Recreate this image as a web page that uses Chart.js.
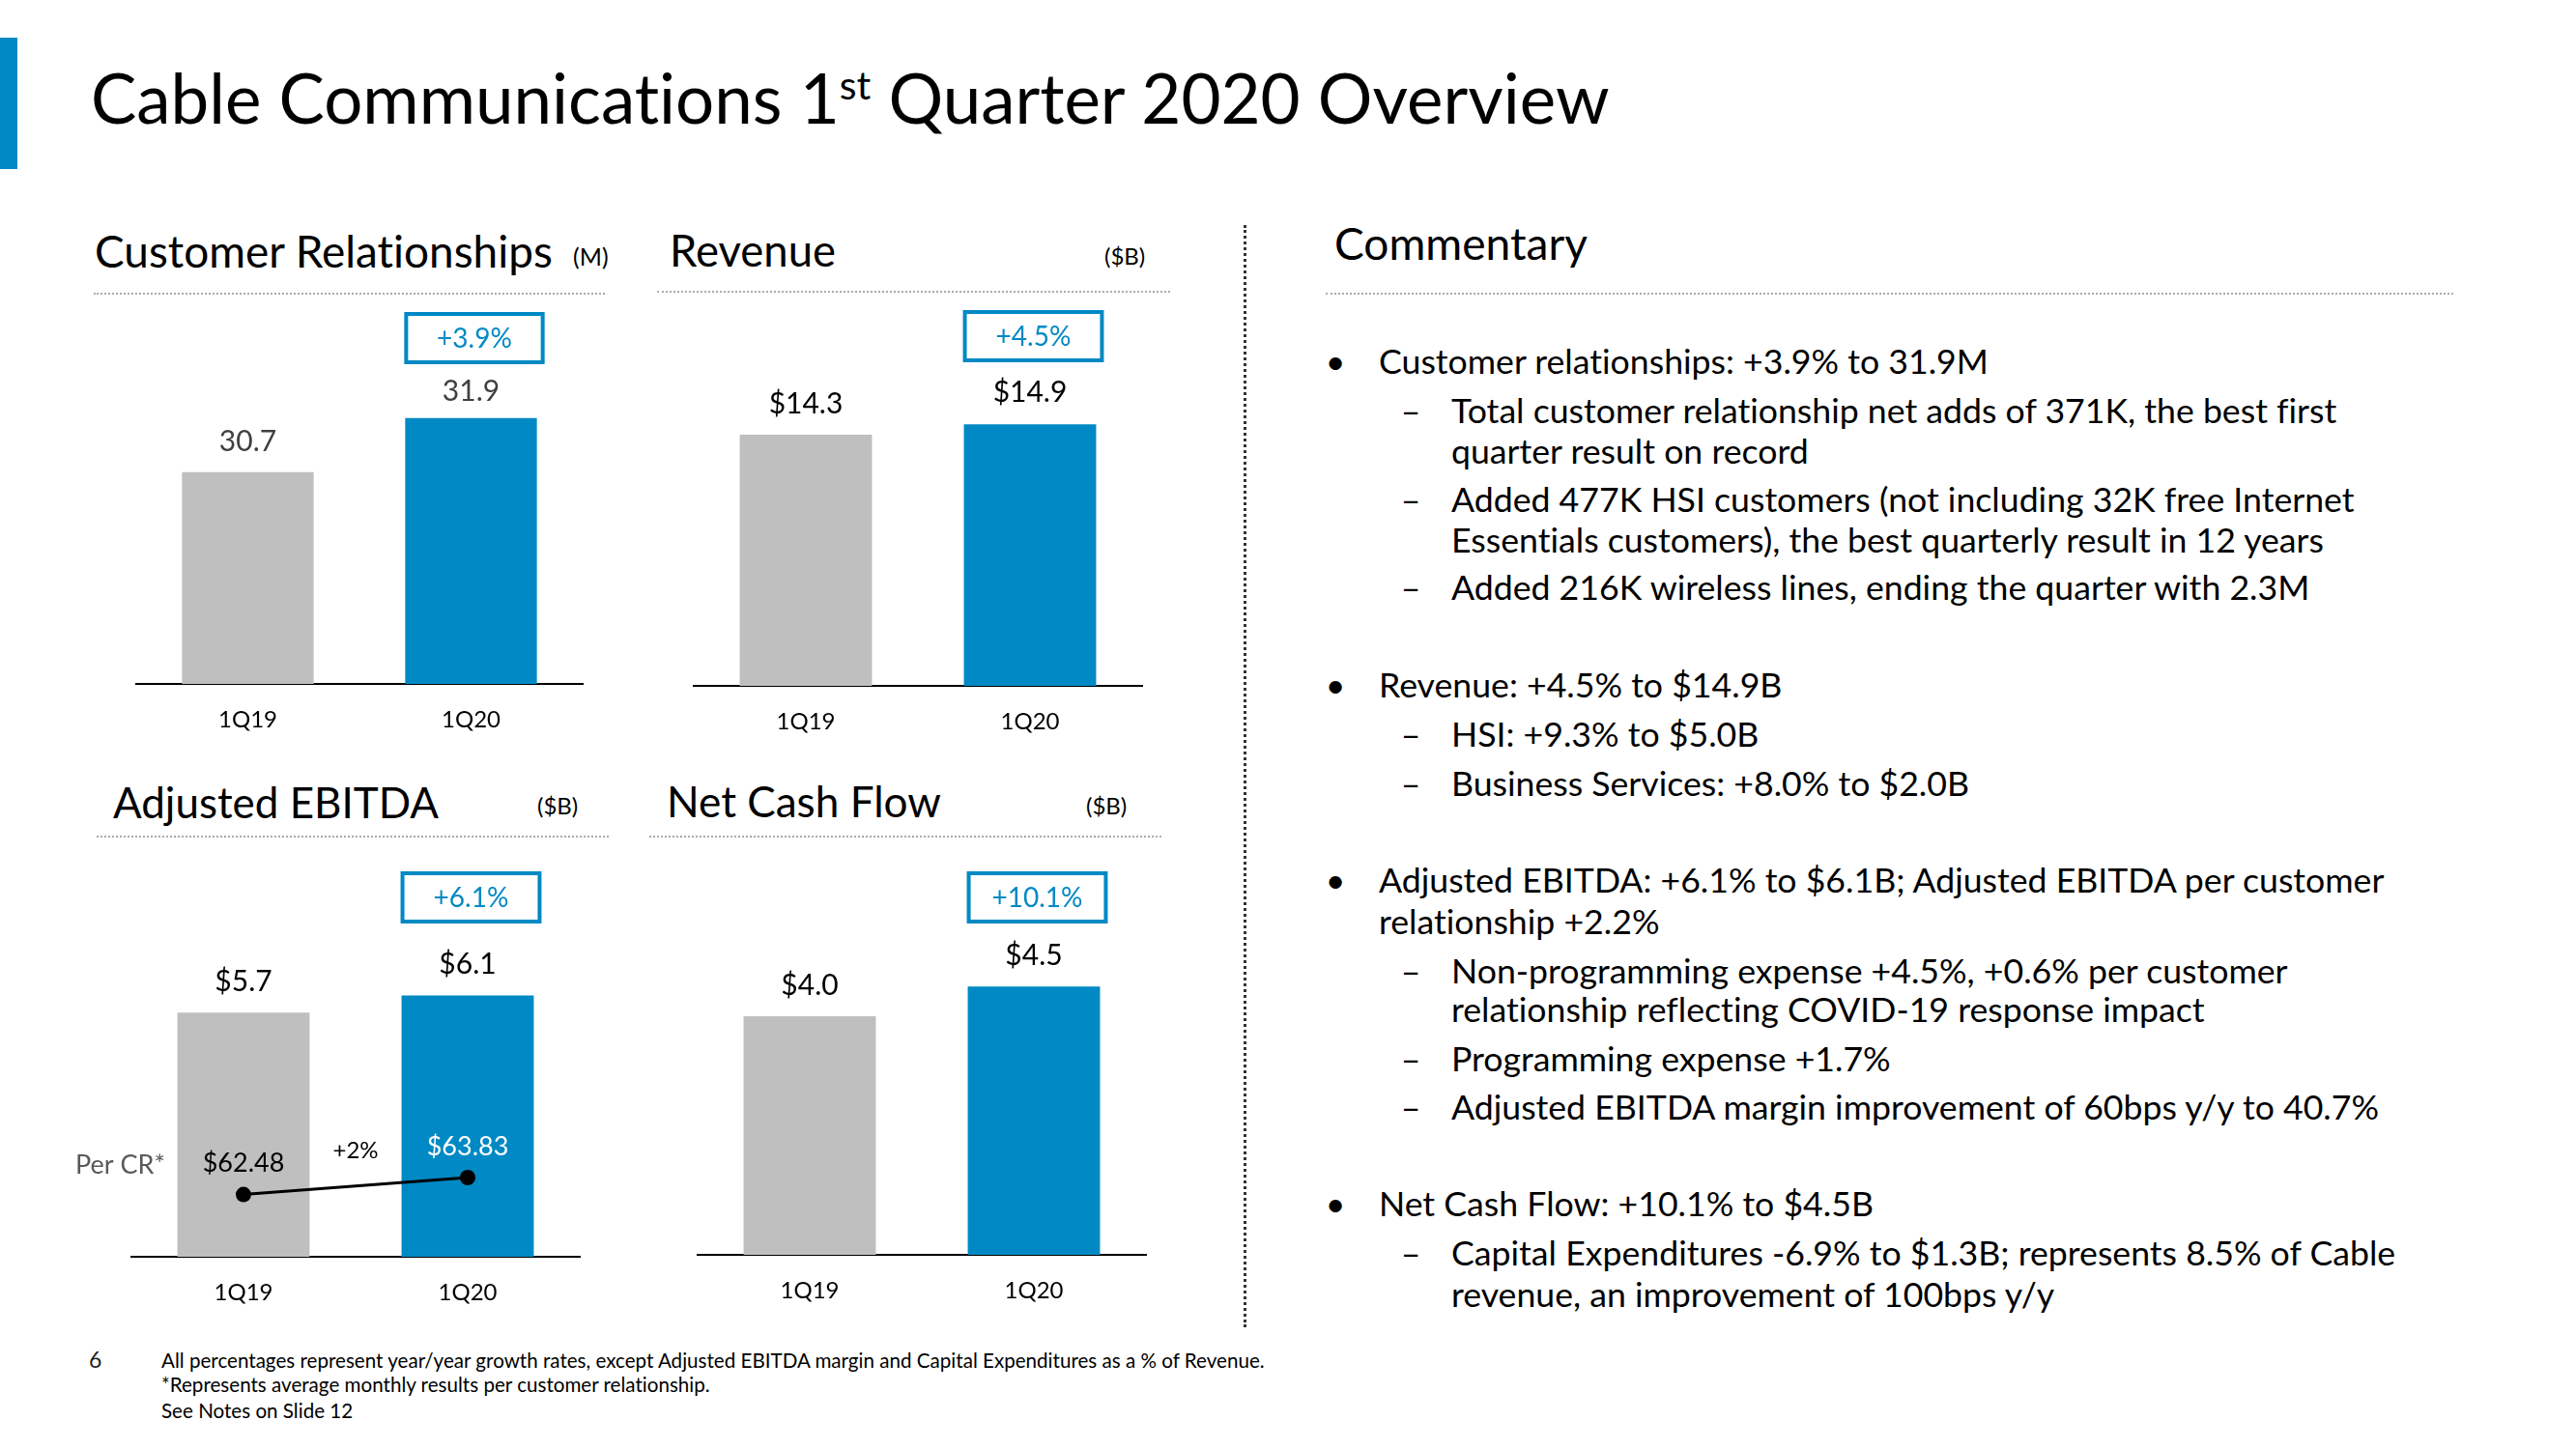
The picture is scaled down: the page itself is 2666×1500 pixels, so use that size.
<!DOCTYPE html>
<html>
<head>
<meta charset="utf-8">
<script src="https://cdn.jsdelivr.net/npm/chart.js@4.4.1/dist/chart.umd.min.js"></script>
<style>
html,body{margin:0;padding:0;background:#fff;}
body{width:2666px;height:1500px;position:relative;overflow:hidden;font-family:Lato,'Open Sans',sans-serif;color:#000;font-variant-ligatures:none;}
.t{position:absolute;white-space:nowrap;line-height:1.2;}
.dots{position:absolute;height:0;border-top:2px dotted #ABABAB;}
.vdots{position:absolute;width:0;border-left:3px dotted #333;}
canvas{position:absolute;}
sup{font-size:0.58em;vertical-align:0.62em;line-height:0;}
</style>
</head>
<body>
<div style="position:absolute;left:0;top:39px;width:18px;height:136px;background:#0089C4"></div>
<div class="dots" style="left:97px;top:303px;width:529px"></div>
<div class="dots" style="left:680px;top:301px;width:531px"></div>
<div class="dots" style="left:100px;top:865px;width:530px"></div>
<div class="dots" style="left:672px;top:865px;width:530px"></div>
<div class="dots" style="left:1372px;top:303px;width:1167px"></div>
<div class="vdots" style="left:1287px;top:233px;height:1141px"></div>
<script>
// ---------------- DATA ----------------
const categories = ['1Q19', '1Q20'];
const customerRelationships = [30.7, 31.9];   // (M)
const revenue = [14.3, 14.9];                 // ($B)
const adjustedEbitda = [5.7, 6.1];            // ($B)
const ebitdaPerCR = [62.48, 63.83];           // $ per customer relationship
const netCashFlow = [4.0, 4.5];               // ($B)
const growthRates = ['+3.9%', '+4.5%', '+6.1%', '+10.1%'];
const perCRGrowth = '+2%';
const perCRLabel = 'Per CR*';

const slideTitle = 'Cable Communications 1<sup>st</sup> Quarter 2020 Overview';
const chartTitles = ['Customer Relationships', 'Revenue', 'Adjusted EBITDA', 'Net Cash Flow'];
const chartUnits = ['(M)', '($B)', '($B)', '($B)'];
const commentaryTitle = 'Commentary';
const commentary = [
  [0, 'Customer relationships: +3.9% to 31.9M'],
  [1, 'Total customer relationship net adds of 371K, the best first'],
  [2, 'quarter result on record'],
  [1, 'Added 477K HSI customers (not including 32K free Internet'],
  [2, 'Essentials customers), the best quarterly result in 12 years'],
  [1, 'Added 216K wireless lines, ending the quarter with 2.3M'],
  [0, 'Revenue: +4.5% to $14.9B'],
  [1, 'HSI: +9.3% to $5.0B'],
  [1, 'Business Services: +8.0% to $2.0B'],
  [0, 'Adjusted EBITDA: +6.1% to $6.1B; Adjusted EBITDA per customer'],
  [3, 'relationship +2.2%'],
  [1, 'Non-programming expense +4.5%, +0.6% per customer'],
  [2, 'relationship reflecting COVID-19 response impact'],
  [1, 'Programming expense +1.7%'],
  [1, 'Adjusted EBITDA margin improvement of 60bps y/y to 40.7%'],
  [0, 'Net Cash Flow: +10.1% to $4.5B'],
  [1, 'Capital Expenditures -6.9% to $1.3B; represents 8.5% of Cable'],
  [2, 'revenue, an improvement of 100bps y/y']
];
const footnotes = [
  'All percentages represent year/year growth rates, except Adjusted EBITDA margin and Capital Expenditures as a % of Revenue.',
  '*Represents average monthly results per customer relationship.',
  'See Notes on Slide 12'
];
const pageNumber = '6';

// ---------------- LAYOUT ----------------
const BLUE = '#0089C4', GRAY = '#BFBFBF';
const FONT = "Lato, 'Open Sans', sans-serif";
const ASC = 0.987;
Chart.defaults.font.family = FONT;

function addText(html, x, baseline, size, o = {}) {
  const el = document.createElement('div');
  el.className = 't';
  el.innerHTML = html;
  el.style.fontSize = size + 'px';
  if (o.color) el.style.color = o.color;
  document.body.appendChild(el);
  if (o.fitW) {
    const w = el.getBoundingClientRect().width;
    size = size * o.fitW / w;
    el.style.fontSize = size + 'px';
  }
  let left = x;
  if (o.align === 'center') left = x - el.getBoundingClientRect().width / 2;
  el.style.left = left + 'px';
  el.style.top = (baseline - ASC * size) + 'px';
  return size;
}

addText(slideTitle, 94, 128, 70, {fitW: 1572});

const titlePos = [[98, 277, 474], [693, 277, 172], [117, 847, 337], [690, 847, 284]];
const unitPos = [[593, 275, 25], [1143, 275, 24], [556, 844, 24], [1124, 844, 24]];
chartTitles.forEach((t, i) => addText(t, titlePos[i][0], titlePos[i][1], 40, {fitW: titlePos[i][2]}));
chartUnits.forEach((t, i) => addText(t, unitPos[i][0], unitPos[i][1], unitPos[i][2]));
addText(commentaryTitle, 1381, 269, 40, {fitW: 262});

// commentary
const comBase = [388, 439, 481, 531, 573, 622, 723, 774, 825, 925, 968, 1019, 1059, 1110, 1160, 1260, 1311, 1354];
let comSize = 0;
commentary.forEach(([lvl, txt], i) => {
  const textX = (lvl === 0 || lvl === 3) ? 1427 : 1502;
  if (i === 0) comSize = addText(txt, textX, comBase[i], 34, {fitW: 631});
  else addText(txt, textX, comBase[i], comSize);
  if (lvl === 0) addText('\u2022', 1382, comBase[i], comSize, {align: 'center'});
  if (lvl === 1) addText('\u2013', 1460, comBase[i], comSize, {align: 'center'});
});

// footnotes
const footBase = [1416, 1441, 1468];
let footSize = 0;
footnotes.forEach((t, i) => {
  if (i === 0) footSize = addText(t, 167, footBase[i], 20, {fitW: 1142});
  else addText(t, 167, footBase[i], footSize);
});
addText(pageNumber, 92, 1417, 23, {color: '#222'});

// ---------------- CHARTS ----------------
function slidePlugin(spec) {
  return {
    id: 'slideLabels_' + spec.id,
    afterDatasetsDraw(chart) {
      const ctx = chart.ctx;
      const bi = spec.line ? 1 : 0;
      const meta = chart.getDatasetMeta(bi);
      const ds = chart.data.datasets[bi];
      ctx.save();
      ctx.textAlign = 'center';
      ctx.textBaseline = 'middle';
      ctx.font = '30px ' + FONT;
      ctx.fillStyle = spec.valueColor;
      meta.data.forEach((bar, i) => ctx.fillText(spec.fmt(ds.data[i]), bar.x, bar.y - spec.labelGap[i]));
      // growth box over the latest bar
      const last = meta.data[meta.data.length - 1];
      const bw = last.width + 9;
      const bx = last.x - last.width / 2 - 1;
      const by = chart.chartArea.top;
      const bh = 54;
      ctx.strokeStyle = BLUE;
      ctx.lineWidth = 4;
      ctx.strokeRect(bx + 2, by + 2, bw - 4, bh - 4);
      ctx.fillStyle = BLUE;
      ctx.font = '28px ' + FONT;
      ctx.fillText(spec.growth, bx + bw / 2, by + bh / 2 + 1);
      if (spec.line) {
        const lm = chart.getDatasetMeta(0);
        const lds = chart.data.datasets[0];
        ctx.font = '27px ' + FONT;
        lm.data.forEach((pt, i) => {
          ctx.fillStyle = i === 0 ? '#000' : '#fff';
          ctx.fillText('$' + lds.data[i].toFixed(2), pt.x, pt.y - 32);
        });
        const p0 = lm.data[0], p1 = lm.data[1];
        ctx.fillStyle = '#000';
        ctx.font = '24px ' + FONT;
        ctx.fillText(perCRGrowth, (p0.x + p1.x) / 2, (p0.y + p1.y) / 2 - 37);
        ctx.textAlign = 'right';
        ctx.fillStyle = '#595959';
        ctx.font = '27px ' + FONT;
        ctx.fillText(perCRLabel, chart.chartArea.left + 35, p0.y - 30);
      }
      ctx.restore();
    }
  };
}

const specs = [
  {id: 'cr', data: customerRelationships, axisL: 141, axisR: 603, axisY: 708, areaTop: 323, yMin: 26, yMax: 34.25,
   fmt: v => v.toFixed(1), valueColor: '#404040', growth: growthRates[0], padL: 10, labelGap: [31, 27]},
  {id: 'rev', data: revenue, axisL: 718, axisR: 1182, axisY: 710, areaTop: 321, yMin: 0, yMax: 21.4,
   fmt: v => '$' + v.toFixed(1), valueColor: '#000', growth: growthRates[1], padL: 10, labelGap: [32, 33]},
  {id: 'ebitda', data: adjustedEbitda, axisL: 136, axisR: 600, axisY: 1301, areaTop: 902, yMin: 0, yMax: 9.0,
   fmt: v => '$' + v.toFixed(1), valueColor: '#000', growth: growthRates[2], padL: 76, labelGap: [32, 32],
   line: ebitdaPerCR, y2Min: 57.54, y2Max: 88.14},
  {id: 'ncf', data: netCashFlow, axisL: 722, axisR: 1186, axisY: 1299, areaTop: 902, yMin: 0, yMax: 6.43,
   fmt: v => '$' + v.toFixed(1), valueColor: '#000', growth: growthRates[3], padL: 10, labelGap: [32, 32]}
];

specs.forEach(s => {
  const tickPad = 25, tickSize = 24;
  const padT = 8, padR = 10, padB = 6, axisH = tickSize + 2 * tickPad;
  const W = s.padL + (s.axisR - s.axisL) + padR;
  const H = padT + (s.axisY - s.areaTop) + axisH + padB;
  const cv = document.createElement('canvas');
  cv.width = W; cv.height = H;
  cv.style.left = (s.axisL - s.padL) + 'px';
  cv.style.top = (s.areaTop - padT) + 'px';
  cv.style.width = W + 'px'; cv.style.height = H + 'px';
  document.body.appendChild(cv);

  const datasets = [];
  if (s.line) {
    datasets.push({type: 'line', data: s.line, yAxisID: 'y2', borderColor: '#000', borderWidth: 3,
      pointRadius: 8, pointBackgroundColor: '#000', pointBorderWidth: 0, order: 0, tension: 0});
  }
  datasets.push({type: 'bar', data: s.data, yAxisID: 'y', backgroundColor: [GRAY, BLUE],
    barPercentage: 0.59, categoryPercentage: 1, borderWidth: 0, order: 1});

  const scales = {
    x: {offset: true, grid: {display: false, drawTicks: false},
        border: {display: true, color: '#000', width: 2},
        ticks: {color: '#000', padding: tickPad, font: {family: FONT, size: tickSize, lineHeight: 1}}},
    y: {display: false, min: s.yMin, max: s.yMax}
  };
  if (s.line) scales.y2 = {display: false, min: s.y2Min, max: s.y2Max, position: 'right'};

  new Chart(cv, {
    type: 'bar',
    data: {labels: categories, datasets},
    options: {
      responsive: false, animation: false, devicePixelRatio: 1,
      layout: {padding: {left: s.padL, right: padR, top: padT, bottom: padB}},
      plugins: {legend: {display: false}, tooltip: {enabled: false}},
      scales
    },
    plugins: [slidePlugin(s)]
  });
});
</script>
</body>
</html>
